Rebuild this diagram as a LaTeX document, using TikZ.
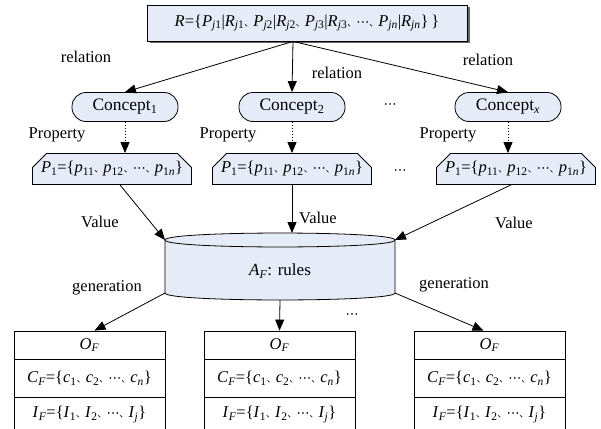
\documentclass[tikz,border=0pt]{standalone}
\usepackage{fontspec}
\setmainfont{Liberation Serif}
\newfontfamily\cjk{Noto Sans CJK SC}
\newfontfamily\dejavu{DejaVu Sans}
\usetikzlibrary{arrows.meta,shapes.misc,shadows}
\newcommand{\sbs}[1]{\textsubscript{#1}}
\newcommand{\dn}{{\cjk\fontsize{9}{9}\selectfont 、}}
\newcommand{\cdt}{{\dejavu\fontsize{13}{13}\selectfont ⋯}}
\definecolor{lb}{RGB}{230,236,247}
\begin{document}
\begin{tikzpicture}[x=1pt,y=-1pt,
  font=\fontsize{16.5}{19}\selectfont,
  line width=0.8pt,
  conn/.style={draw, -{Triangle[length=11pt,width=9pt]}},
  dconn/.style={draw, dash pattern=on 1.5pt off 1.5pt, -{Triangle[length=11pt,width=9pt]}},
  lbl/.style={inner sep=0pt},
  topbox/.style={draw, fill=lb, minimum width=320pt, minimum height=36pt, inner sep=0pt,
     general shadow={shadow xshift=2.5pt, shadow yshift=-2.5pt, fill=black!60}},
  concept/.style={draw, fill=lb, rounded corners=14pt, minimum width=106pt, minimum height=29pt, inner sep=0pt,
     font=\fontsize{17.5}{19}\selectfont},
  pbox/.style={draw, fill=lb, chamfered rectangle, chamfered rectangle corners={north west,north east},
     chamfered rectangle xsep=7pt, chamfered rectangle ysep=7pt, minimum width=159pt, minimum height=31pt, inner sep=0pt},
  cell/.style={draw, fill=white, minimum width=151pt, inner sep=0pt},
]
\useasboundingbox (0,0) rectangle (601,428);

% top box
\node[topbox] (R) at (307,23) {\textit{R}=\{\textit{P}\sbs{\textit{j}1}|\textit{R}\sbs{\textit{j}1}\dn\textit{P}\sbs{\textit{j}2}|\textit{R}\sbs{\textit{j}2}\dn\textit{P}\sbs{\textit{j}3}|\textit{R}\sbs{\textit{j}3}\dn\cdt\dn\textit{P}\sbs{\textit{jn}}|\textit{R}\sbs{\textit{jn}}\}\,\}};
\coordinate (rs) at ([xshift=-14pt]R.south);

% concepts
\node[concept] (c1) at (125,107) {Concept\sbs{1}};
\node[concept] (c2) at (292,107) {Concept\sbs{2}};
\node[concept] (cx) at (508,107) {Concept\sbs{\textit{x}}};
\node[lbl] (d1) at (390,106) {\cdt};

% property boxes
\node[pbox] (p1) at (112,169) {\textit{P}\sbs{1}=\{\textit{p}\sbs{11}\dn\textit{p}\sbs{12}\dn\cdt\dn\textit{p}\sbs{1\textit{n}}\}};
\node[pbox] (p2) at (292,169) {\textit{P}\sbs{1}=\{\textit{p}\sbs{11}\dn\textit{p}\sbs{12}\dn\cdt\dn\textit{p}\sbs{1\textit{n}}\}};
\node[pbox] (p3) at (516,169) {\textit{P}\sbs{1}=\{\textit{p}\sbs{11}\dn\textit{p}\sbs{12}\dn\cdt\dn\textit{p}\sbs{1\textit{n}}\}};
\node[lbl] (d2) at (400,172) {\cdt};

% cylinder
\draw[fill=lb] (165,240) -- (165,293) .. controls (165,302.3) and (395,302.3) .. (395,293) -- (395,240)
   .. controls (395,230.7) and (165,230.7) .. (165,240) -- cycle;
\draw (165,240) .. controls (165,249.3) and (395,249.3) .. (395,240);
\node[lbl, font=\fontsize{17}{19}\selectfont] (cyl) at (280,271) {\textit{A}\sbs{\textit{F}}: rules};
\coordinate (cyltop) at (292,233);
\coordinate (cyltl) at (165,240);
\coordinate (cyltr) at (395,240);
\coordinate (cylbl) at (165,293);
\coordinate (cylbm) at (280,300);
\coordinate (cylbr) at (395,293);

% bottom boxes
\foreach \n/\x in {a/89.5,b/279.5,c/489.5}{
  \node[cell, minimum height=28pt] (o\n) at (\x,345) {\textit{O}\sbs{\textit{F}}};
  \node[cell, minimum height=38pt] (k\n) at (\x,378) {\textit{C}\sbs{\textit{F}}=\{\textit{c}\sbs{1}\dn\textit{c}\sbs{2}\dn\cdt\dn\textit{c}\sbs{\textit{n}}\}};
  \node[cell, minimum height=35pt] (i\n) at (\x,414.5) {\textit{I}\sbs{\textit{F}}=\{\textit{I}\sbs{1}\dn\textit{I}\sbs{2}\dn\cdt\dn\textit{I}\sbs{\textit{j}}\}};
}
\node[lbl] (d3) at (352,316) {\cdt};

% connectors
\draw[conn] (rs) -- (c1.north);
\draw[conn] (rs) -- (c2.north);
\draw[conn] (rs) -- (cx.north);
\draw[dconn] (c1.south) -- (c1.south |- p1.north);
\draw[dconn] (c2.south) -- (p2.north);
\draw[dconn] (cx.south) -- (cx.south |- p3.north);
\draw[conn] ([xshift=8pt]p1.south) -- (cyltl);
\draw[conn] (p2.south) -- (cyltop);
\draw[conn] ([xshift=-5pt]p3.south) -- (cyltr);
\draw[conn] (cylbl) -- ([xshift=5pt]oa.north);
\draw[conn] (cylbm) -- (ob.north);
\draw[conn] (cylbr) -- ([xshift=-6pt]oc.north);

% labels
\node[lbl] (l1) at (86,57) {relation};
\node[lbl] (l2) at (337,73) {relation};
\node[lbl] (l3) at (488,60) {relation};
\node[lbl] (q1) at (57,135) {Property};
\node[lbl] (q2) at (228,135) {Property};
\node[lbl] (q3) at (448,135) {Property};
\node[lbl] (v1) at (100,222) {Value};
\node[lbl] (v2) at (318,218) {Value};
\node[lbl] (v3) at (514,223) {Value};
\node[lbl] (g1) at (107,288) {generation};
\node[lbl] (g2) at (454,285) {generation};
\end{tikzpicture}
\end{document}
